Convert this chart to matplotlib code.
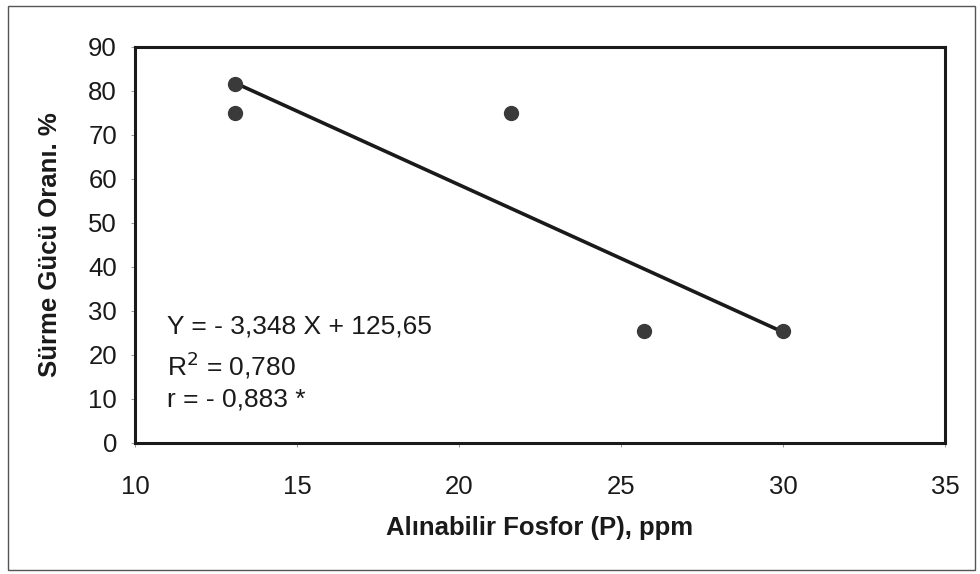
import matplotlib.pyplot as plt
import matplotlib.patches as mpatches

plt.rcParams['font.family'] = ['Liberation Sans', 'DejaVu Sans']

# fosfor (ppm) and surme gucu orani (%)
fosfor = [13.1, 13.1, 21.6, 25.7, 30.0]
surme = [81.5, 75.0, 75.0, 25.5, 25.5]

# regression from the chart
slope = -3.348
intercept = 125.65

fig = plt.figure(figsize=(9.8, 5.74), dpi=100)
ax = fig.add_axes([135 / 980, 1 - 443 / 574, 810 / 980, 396 / 574])

x_fit = [min(fosfor), max(fosfor)]
y_fit = [slope * v + intercept for v in x_fit]
ax.plot(x_fit, y_fit, color='#1a1a1a', lw=2.6, zorder=2)
ax.scatter(fosfor, surme, s=100, color='#3a3a3a', zorder=3)

ax.set_xlim(10, 35)
ax.set_ylim(0, 90)
ax.set_xticks(range(10, 36, 5))
ax.set_yticks(range(0, 91, 10))
ax.tick_params(direction='out', length=3, width=0.6, colors='#888888',
               labelcolor='#1a1a1a', labelsize=18.5, pad=10)
ax.tick_params(axis='x', pad=20)
for s in ax.spines.values():
    s.set_linewidth(2.2)
    s.set_color('#1a1a1a')

ax.set_xlabel('Alınabilir Fosfor (P), ppm', fontsize=18.5, fontweight='bold',
              color='#1a1a1a')
ax.set_ylabel('Sürme Gücü Oranı. %', fontsize=18.5, fontweight='bold',
              color='#1a1a1a')
ax.xaxis.label.set_va('center')
ax.yaxis.label.set_va('center')
ax.xaxis.set_label_coords(0.5, -0.215)
ax.yaxis.set_label_coords(-0.105, 0.5)

ax.text(11.0, 26.4, 'Y = - 3,348 X + 125,65', fontsize=19, color='#1a1a1a', va='center')
ax.text(11.0, 17.7, 'R$^2$ = 0,780', fontsize=19, color='#1a1a1a', va='center')
ax.text(11.0, 9.8, 'r = - 0,883 *', fontsize=19, color='#1a1a1a', va='center')

frame = mpatches.Rectangle((8 / 980, 4 / 574), 967 / 980, 564 / 574,
                           transform=fig.transFigure, fill=False,
                           edgecolor='#555555', lw=1.0)
fig.patches.append(frame)

fig.savefig('out.png', dpi=100)
